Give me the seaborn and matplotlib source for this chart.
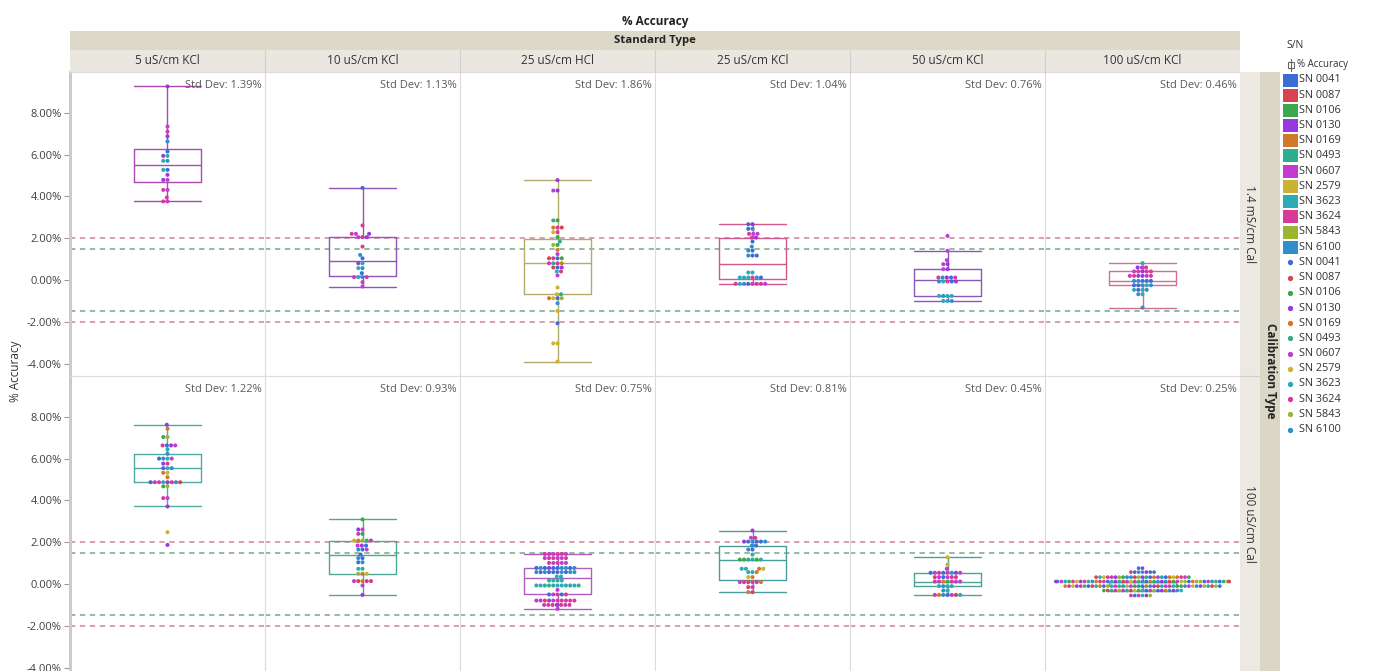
import warnings
warnings.filterwarnings("ignore")
import numpy as np
import pandas as pd
import matplotlib
matplotlib.use("Agg")
import matplotlib.pyplot as plt
from matplotlib.patches import Rectangle
from matplotlib.lines import Line2D
import seaborn as sns

sns.set_theme(style="white")
plt.rcParams['font.family'] = ['Open Sans', 'DejaVu Sans']

# ---------------- data ----------------
standards = ["5 uS/cm KCl", "10 uS/cm KCl", "25 uS/cm HCl", "25 uS/cm KCl", "50 uS/cm KCl", "100 uS/cm KCl"]
calibrations = ["1.4 mS/cm Cal", "100 uS/cm Cal"]
serials = ["SN 0041", "SN 0087", "SN 0106", "SN 0130", "SN 0169", "SN 0493",
           "SN 0607", "SN 2579", "SN 3623", "SN 3624", "SN 5843", "SN 6100"]
serial_colors = ["#3d6cd6", "#d8434f", "#3ba84a", "#9838de", "#d2782c", "#2fae8e",
                 "#c43ad2", "#c9b431", "#2babb3", "#d83a9a", "#9ab531", "#2f8ecb"]
std_devs = [[1.39, 1.13, 1.86, 1.04, 0.76, 0.46],
            [1.22, 0.93, 0.75, 0.81, 0.45, 0.25]]
limit_outer = 2.0
limit_inner = 1.5
y_ticks = [-4, -2, 0, 2, 4, 6, 8]

# value levels (% accuracy) and, per level, the serial codes (hex index into serials) of the points
T1_levels = [9.26, 7.34, 7.10, 6.87, 6.63, 6.15, 5.94, 5.70, 5.27, 5.03, 4.79, 4.31, 3.95, 3.76]
T1_sn = ["3", "6", "9", "3", "b", "0", "38", "8b", "80", "3", "63", "69", "9", "69"]
T2_levels = [4.41, 2.61, 2.21, 2.05, 1.60, 1.20, 1.04, 0.80, 0.57, 0.33, 0.14, -0.10, -0.31]
T2_sn = ["0", "9", "369", "639", "9", "b", "0", "83", "b8", "0", "8b96", "9", "6"]
T3_levels = [4.78, 4.28, 2.85, 2.51, 2.29, 2.05, 1.84, 1.68, 1.44, 1.24, 1.04, 0.80, 0.60, 0.41,
             0.22, -0.36, -0.68, -0.87, -1.11, -1.48, -2.07, -3.03, -3.90]
T3_sn = ["3", "36", "25", "941", "97", "2", "5", "2a", "4", "6", "1920", "6549", "301", "98",
         "6", "7", "75", "074a", "b", "7", "0", "77", "7"]
T4_levels = [2.67, 2.45, 2.21, 2.03, 1.84, 1.60, 1.41, 1.17, 0.36, 0.12, -0.18]
T4_sn = ["30", "b0", "696", "93", "0", "b", "0b", "0b0", "88", "8b8098", "909b9869"]
T5_levels = [2.11, 1.40, 0.95, 0.76, 0.52, 0.12, -0.07, -0.76, -1.00]
T5_sn = ["6", "6", "6", "36", "36", "390b9", "90b38", "88b8", "8b8"]
T6_levels = [0.81, 0.60, 0.41, 0.20, -0.04, -0.25, -0.47, -0.68, -1.32]
T6_sn = ["8", "693", "96939", "693963", "0b0b0", "b08b0", "8b80", "8b", "b"]

B1_levels = [7.62, 7.43, 7.03, 6.63, 6.44, 6.23, 6.00, 5.76, 5.54, 5.32, 5.11, 4.87, 4.67, 4.11,
             3.71, 2.48, 1.87]
B1_sn = ["3", "4", "a2", "6390", "8", "b", "086b", "93", "08b", "47", "4", "1960b389", "a2", "96",
         "3", "7", "3"]
B2_levels = [3.09, 2.61, 2.40, 2.08, 1.84, 1.65, 1.41, 1.24, 1.04, 0.73, 0.49, 0.14, -0.07, -0.52]
B2_sn = ["2", "36", "62", "49a75", "360", "06b", "0", "b0", "0b", "85", "74a", "96149", "6", "3"]
B3_levels = [1.44, 1.24, 1.01, 0.77, 0.57, 0.36, 0.17, -0.07, -0.28, -0.50, -0.79, -1.00, -1.19]
B3_sn = ["696969", "969696", "69696", "0b0b30b0b0", "b0b0b0b0b0", "88", "8585", "85858585858",
         "6", "09690", "9693961969", "9696939", "6"]
B4_levels = [2.56, 2.21, 2.03, 1.84, 1.65, 1.41, 1.17, 0.73, 0.57, 0.33, 0.09, -0.15, -0.39]
B4_sn = ["3", "69", "0b03b0", "0b", "b0", "5", "258252", "7488", "884", "74", "919649", "96", "14"]
B5_levels = [1.28, 0.93, 0.73, 0.54, 0.33, 0.12, -0.10, -0.31, -0.52]
B5_sn = ["7", "7", "6", "3069b069", "969069", "9649626", "8b85", "8b", "0b86914"]
B6_levels = [0.76, 0.57, 0.33, 0.12, -0.10, -0.31, -0.55]
B6_sn = ["30", "0b30b09", "4790b3a6219847b0536a82194",
         "6093b1a5284706b93a152b8470963ab5182069b3a4710b5",
         "b8062a5937148b6029a3571b4806a92358b17046b",
         "5a28610b7394a6085b231", "936a08"]

panels = [[(T1_levels, T1_sn), (T2_levels, T2_sn), (T3_levels, T3_sn),
           (T4_levels, T4_sn), (T5_levels, T5_sn), (T6_levels, T6_sn)],
          [(B1_levels, B1_sn), (B2_levels, B2_sn), (B3_levels, B3_sn),
           (B4_levels, B4_sn), (B5_levels, B5_sn), (B6_levels, B6_sn)]]

# ---------------- style ----------------
box_colors = [["#a84bb0", "#8e55b5", "#b3ab6c", "#d0588a", "#8c55b8", "#d2708f"],
              ["#4faaa0", "#4da898", "#ad5ec0", "#4b9c9c", "#4fa394", "#4fa89c"]]
box_whis = [[2.0, 1.5, 1.5, 1.5, 1.0, 2.0],
            [1.5, 1.5, 1.5, 1.5, 1.5, 1.5]]
dot_size = [[2.9, 2.9, 2.9, 2.9, 2.9, 2.9],
            [2.9, 2.9, 2.9, 2.9, 2.9, 2.65]]
pink_line = "#d2849a"
green_line = "#72a984"
palette = dict(zip(serials, serial_colors))

W, H = 1377, 671
fig = plt.figure(figsize=(W / 100, H / 100), dpi=100)
fig.patch.set_facecolor("white")


def fx(px):
    return px / W


def fy(py):
    return 1 - py / H


X0, CW = 70, 195
Y0, RH = 72, 304
YLIM = (-4.59, 9.95)
XLIM = (-0.45, 0.45)

for r in range(2):
    for c in range(6):
        left = X0 + c * CW
        top = Y0 + r * RH
        ax = fig.add_axes([fx(left), fy(top + RH), CW / W, RH / H])
        ax.set_facecolor("white")
        levels, codes = panels[r][c]
        vals, sns_lab = [], []
        for lv, cs in zip(levels, codes):
            for ch in cs:
                vals.append(lv)
                sns_lab.append(serials[int(ch, 16)])
        df = pd.DataFrame({"acc": vals, "SN": sns_lab})

        for yv, col in [(limit_outer, pink_line), (limit_inner, green_line),
                        (-limit_inner, green_line), (-limit_outer, pink_line)]:
            ax.axhline(yv, color=col, lw=1.1, ls=(0, (3.5, 3)), zorder=1)

        sns.boxplot(data=df, y="acc", ax=ax, color=box_colors[r][c], fill=False,
                    width=0.31, showfliers=False, whis=box_whis[r][c], linewidth=1.0,
                    capwidths=0.31)
        sns.swarmplot(data=df, y="acc", hue="SN", hue_order=serials, palette=palette,
                      ax=ax, size=dot_size[r][c], linewidth=0, legend=False, zorder=3)

        ax.set_xlim(*XLIM)
        ax.set_ylim(*YLIM)
        ax.set_xlabel("")
        ax.set_ylabel("")
        ax.set_xticks([])
        for sp in ax.spines.values():
            sp.set_color("#dcdcdc")
            sp.set_linewidth(0.8)
        if c == 0:
            ax.set_yticks(y_ticks)
            ax.set_yticklabels([f"{t:.2f}%" for t in y_ticks])
            ax.tick_params(axis="y", left=True, length=4, width=0.8, color="#9a9a9a",
                           labelsize=8, labelcolor="#404040", pad=2)
            ax.spines["left"].set_color("#cbcbcb")
            ax.spines["left"].set_linewidth(2.2)
        else:
            ax.set_yticks([])
        ax.text(0.982, 1 - 13 / RH, f"Std Dev: {std_devs[r][c]:.2f}%", transform=ax.transAxes,
                ha="right", va="center", fontsize=8, color="#5a5a5a")

# ---------------- headers ----------------
fig.text(fx(655), fy(22), "% Accuracy", ha="center", va="center", fontsize=8.5,
         fontweight="bold", color="#222222")
fig.add_artist(Rectangle((fx(X0), fy(50)), 6 * CW / W, 19 / H, transform=fig.transFigure,
                         facecolor="#dcd9c9", edgecolor="none"))
fig.text(fx(655), fy(40.5), "Standard Type", ha="center", va="center", fontsize=8.2,
         fontweight="bold", color="#222222")
fig.add_artist(Rectangle((fx(X0), fy(72)), 6 * CW / W, 22 / H, transform=fig.transFigure,
                         facecolor="#e9e7e0", edgecolor="none"))
for c in range(6):
    fig.text(fx(X0 + c * CW + CW / 2), fy(61), standards[c], ha="center", va="center",
             fontsize=8.5, color="#333333")
    if c > 0:
        fig.add_artist(Line2D([fx(X0 + c * CW)] * 2, [fy(50), fy(72)], transform=fig.transFigure,
                              color="#d0d0d0", lw=0.8))

# right strips
fig.add_artist(Rectangle((fx(1240), fy(671)), 20 / W, (671 - 72) / H, transform=fig.transFigure,
                         facecolor="#ebe9e2", edgecolor="none"))
fig.add_artist(Line2D([fx(1240), fx(1260)], [fy(376)] * 2, transform=fig.transFigure,
                      color="#d0d0d0", lw=0.8))
fig.text(fx(1250), fy(224), calibrations[0], rotation=-90, ha="center", va="center",
         fontsize=8.5, color="#333333")
fig.text(fx(1250), fy(524), calibrations[1], rotation=-90, ha="center", va="center",
         fontsize=8.5, color="#333333")
fig.add_artist(Rectangle((fx(1260), fy(671)), 20 / W, (671 - 72) / H, transform=fig.transFigure,
                         facecolor="#dad7c6", edgecolor="none"))
fig.text(fx(1270), fy(371), "Calibration Type", rotation=-90, ha="center", va="center",
         fontsize=8.5, fontweight="bold", color="#222222")

# y label
fig.text(fx(15), fy(371), "% Accuracy", rotation=90, ha="center", va="center",
         fontsize=8.5, color="#333333")

# ---------------- legend ----------------
fig.text(fx(1286), fy(45), "S/N", ha="left", va="center", fontsize=7.5, color="#333333")
fig.add_artist(Line2D([fx(1291)] * 2, [fy(59), fy(71)], transform=fig.transFigure,
                      color="#666666", lw=0.8))
fig.add_artist(Rectangle((fx(1288), fy(68)), 6 / W, 6 / H, transform=fig.transFigure,
                         facecolor="none", edgecolor="#666666", lw=0.8))
fig.text(fx(1297), fy(65), "% Accuracy", ha="left", va="center", fontsize=7, color="#333333")
LY0, LDY = 80, 15.2
for i, (name, col) in enumerate(zip(serials, serial_colors)):
    y = LY0 + i * LDY
    fig.add_artist(Rectangle((fx(1283), fy(y + 6.5)), 15 / W, 13 / H, transform=fig.transFigure,
                             facecolor=col, edgecolor="none"))
    fig.text(fx(1299), fy(y), name, ha="left", va="center", fontsize=7.8, color="#333333")
for i, (name, col) in enumerate(zip(serials, serial_colors)):
    y = LY0 + (i + 12) * LDY
    fig.add_artist(Line2D([fx(1290)], [fy(y)], transform=fig.transFigure, marker="o",
                          markersize=2.8, color=col, lw=0))
    fig.text(fx(1299), fy(y), name, ha="left", va="center", fontsize=7.8, color="#333333")

fig.savefig("out.png", dpi=100)
